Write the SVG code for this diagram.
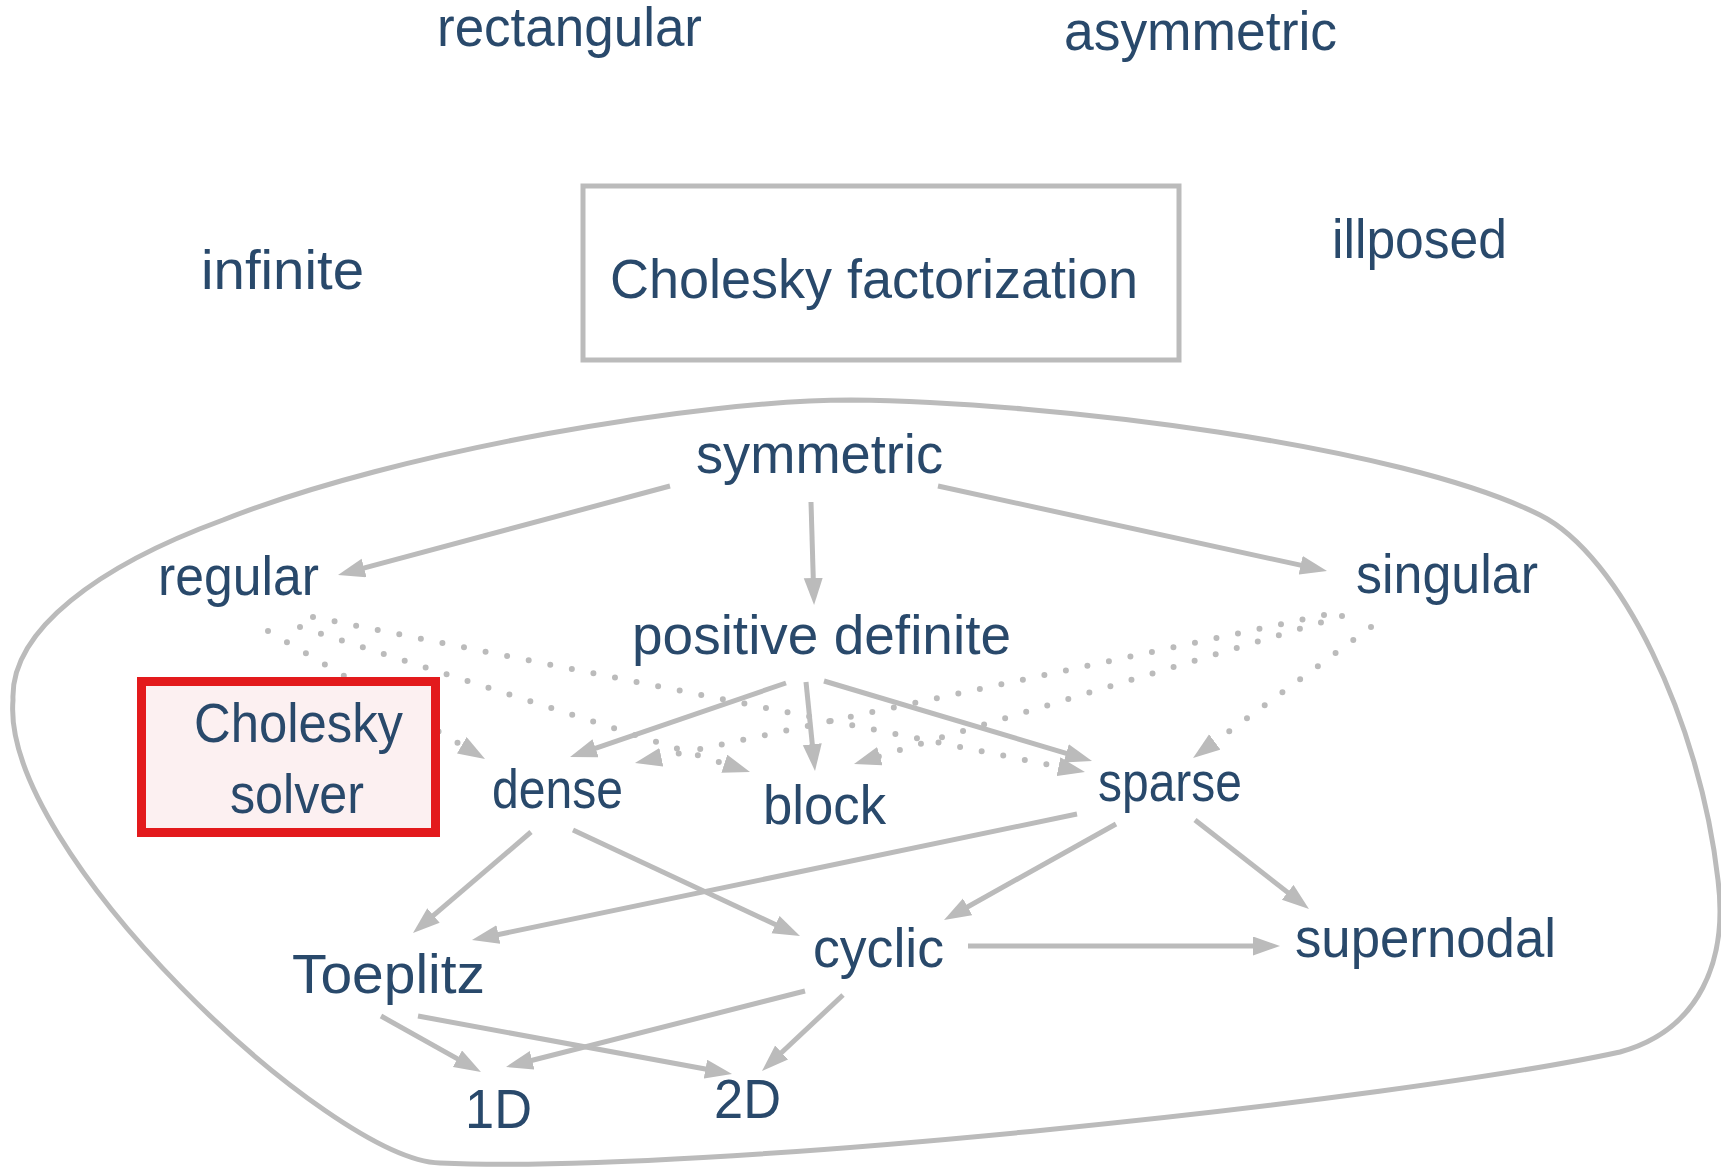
<svg xmlns="http://www.w3.org/2000/svg" width="1721" height="1173" viewBox="0 0 1721 1173">
  <style>
    text { font-family: "Liberation Sans", Arial, sans-serif; font-size: 56px; fill: #29496b; }
    .edge { fill: none; stroke: #bbbbbb; stroke-width: 5; }
    .dot { fill: none; stroke: #bbbbbb; stroke-width: 6; stroke-linecap: round; stroke-dasharray: 0 22; }
    .blob { fill: none; stroke: #bbbbbb; stroke-width: 5; }
  </style>
  <defs>
    <marker id="ah" markerUnits="userSpaceOnUse" markerWidth="28" markerHeight="20" refX="15" refY="9.5" orient="auto" viewBox="0 0 28 20">
      <path d="M0,0 L27,9.5 L0,19 z" fill="#bbbbbb"/>
    </marker>
  </defs>
  <rect width="1721" height="1173" fill="#ffffff"/>

  <g id="region">
    <path class="blob" d="M851,400 C1050,402 1400,445 1540,515 C1620,555 1700,720 1718,880 C1728,960 1700,1030 1620,1052 C1400,1100 700,1175 440,1163 C330,1160 0,850 13,700 C10,630 100,565 223,520 C400,450 700,400 851,400 Z"/>
  </g>

  <g id="connectors">
    <line class="edge" x1="670" y1="486" x2="349.6" y2="571.9" marker-end="url(#ah)"/>
    <line class="edge" x1="811" y1="502" x2="813.7" y2="593" marker-end="url(#ah)"/>
    <line class="edge" x1="938" y1="486" x2="1315.3" y2="568.4" marker-end="url(#ah)"/>
    <line class="edge" x1="786" y1="683" x2="581.4" y2="753.1" marker-end="url(#ah)"/>
    <line class="edge" x1="806" y1="682" x2="813.8" y2="759.1" marker-end="url(#ah)"/>
    <line class="edge" x1="824" y1="681" x2="1080.5" y2="757.6" marker-end="url(#ah)"/>
    <line class="edge" x1="531" y1="832" x2="422.1" y2="925.2" marker-end="url(#ah)"/>
    <line class="edge" x1="573" y1="830" x2="789.1" y2="930.9" marker-end="url(#ah)"/>
    <line class="edge" x1="1077" y1="814" x2="483.7" y2="937.6" marker-end="url(#ah)"/>
    <line class="edge" x1="1116" y1="824" x2="954.5" y2="914.2" marker-end="url(#ah)"/>
    <line class="edge" x1="1195" y1="820" x2="1299.5" y2="901.6" marker-end="url(#ah)"/>
    <line class="edge" x1="968" y1="946" x2="1268" y2="946" marker-end="url(#ah)"/>
    <line class="edge" x1="381" y1="1016" x2="470.5" y2="1066.1" marker-end="url(#ah)"/>
    <line class="edge" x1="418" y1="1016" x2="720.2" y2="1071.8" marker-end="url(#ah)"/>
    <line class="edge" x1="805" y1="991" x2="517.6" y2="1064" marker-end="url(#ah)"/>
    <line class="edge" x1="843" y1="995" x2="770.7" y2="1062.8" marker-end="url(#ah)"/>
    <line class="dot" x1="268" y1="631" x2="474.7" y2="752.9" marker-end="url(#ah)"/>
    <line class="dot" x1="300" y1="627" x2="738.6" y2="768.3" marker-end="url(#ah)"/>
    <line class="dot" x1="313" y1="617" x2="1073.2" y2="769.6" marker-end="url(#ah)"/>
    <line class="dot" x1="1324" y1="615" x2="646.7" y2="760.5" marker-end="url(#ah)"/>
    <line class="dot" x1="1342" y1="616" x2="865.5" y2="760.5" marker-end="url(#ah)"/>
    <line class="dot" x1="1371" y1="627" x2="1202.7" y2="750.9" marker-end="url(#ah)"/>
  </g>

  <g id="rectangular"><text x="437" y="46" textLength="265" lengthAdjust="spacingAndGlyphs">rectangular</text></g>
  <g id="asymmetric"><text x="1064" y="50" textLength="273" lengthAdjust="spacingAndGlyphs">asymmetric</text></g>
  <g id="infinite"><text x="201" y="289" textLength="163" lengthAdjust="spacingAndGlyphs">infinite</text></g>
  <g id="illposed"><text x="1332" y="258" textLength="175" lengthAdjust="spacingAndGlyphs">illposed</text></g>
  <g id="cholesky-factorization">
    <rect x="583" y="186" width="596" height="174" fill="#ffffff" stroke="#bbbbbb" stroke-width="5"/>
    <text x="610" y="298" textLength="528" lengthAdjust="spacingAndGlyphs">Cholesky factorization</text>
  </g>
  <g id="symmetric"><text x="696" y="473" textLength="247" lengthAdjust="spacingAndGlyphs">symmetric</text></g>
  <g id="regular"><text x="158" y="595" textLength="161" lengthAdjust="spacingAndGlyphs">regular</text></g>
  <g id="singular"><text x="1356" y="593" textLength="182" lengthAdjust="spacingAndGlyphs">singular</text></g>
  <g id="positive-definite"><text x="632" y="654" textLength="379" lengthAdjust="spacingAndGlyphs">positive definite</text></g>
  <g id="cholesky-solver">
    <rect x="141.5" y="681.5" width="294" height="151" fill="#fcf0f1" stroke="#e31a1c" stroke-width="9"/>
    <text x="194" y="742" textLength="209" lengthAdjust="spacingAndGlyphs">Cholesky</text>
    <text x="230" y="813" textLength="134" lengthAdjust="spacingAndGlyphs">solver</text>
  </g>
  <g id="dense"><text x="492" y="808" textLength="131" lengthAdjust="spacingAndGlyphs">dense</text></g>
  <g id="block"><text x="763" y="824" textLength="123" lengthAdjust="spacingAndGlyphs">block</text></g>
  <g id="sparse"><text x="1098" y="801" textLength="144" lengthAdjust="spacingAndGlyphs">sparse</text></g>
  <g id="toeplitz"><text x="292" y="993" textLength="193" lengthAdjust="spacingAndGlyphs">Toeplitz</text></g>
  <g id="cyclic"><text x="813" y="967" textLength="131" lengthAdjust="spacingAndGlyphs">cyclic</text></g>
  <g id="supernodal"><text x="1295" y="957" textLength="261" lengthAdjust="spacingAndGlyphs">supernodal</text></g>
  <g id="n1D"><text x="465" y="1128" textLength="67" lengthAdjust="spacingAndGlyphs">1D</text></g>
  <g id="n2D"><text x="714" y="1118" textLength="67" lengthAdjust="spacingAndGlyphs">2D</text></g>
</svg>
